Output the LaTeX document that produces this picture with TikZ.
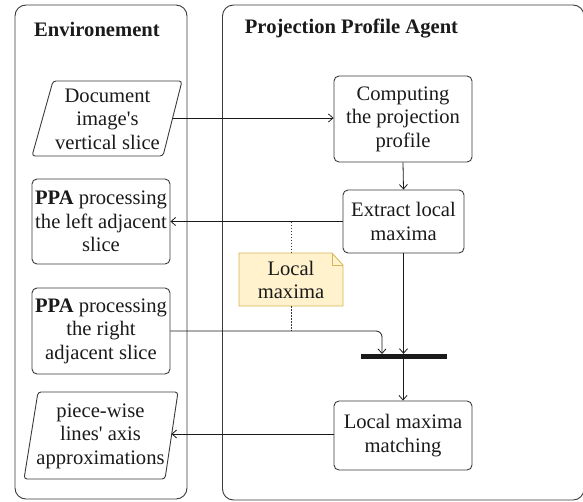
\documentclass[tikz,border=0pt]{standalone}
\usepackage{fontspec}
\setmainfont[Ligatures=TeXOff]{Liberation Serif}
\usetikzlibrary{arrows.meta}
\definecolor{ink}{HTML}{1A1A1A}
\definecolor{edge}{HTML}{3A3A3A}
\definecolor{notefill}{HTML}{FFF2CC}
\definecolor{noteedge}{HTML}{D6B656}
\tikzset{
  lbl/.style={font=\fontsize{20.6}{23.5}\selectfont, text=ink, align=center, inner sep=0pt},
  ttl/.style={font=\fontsize{20.6}{23.5}\selectfont\bfseries, text=ink, inner sep=0pt},
  lane/.style={draw=edge, line width=0.9pt, rounded corners=11pt},
  stepbox/.style={lbl, draw=edge, line width=0.9pt, rounded corners=5pt},
  flow/.style={draw=ink, line width=0.8pt, -{Straight Barb[length=4.5pt,width=8pt]}},
  shell/.style={draw=edge, line width=0.9pt, rounded corners=3pt},
  guide/.style={draw=edge, line width=0.7pt, dash pattern=on 1.5pt off 1.5pt},
}
\begin{document}
\begin{tikzpicture}[x=1pt,y=-1pt]
\useasboundingbox (0,0) rectangle (583,501);
\clip (0,0) rectangle (583,501);

% swimlanes
\draw[lane] (15,5) rectangle (187,499);
\draw[lane] (222.5,5) rectangle (584,500);
\node[ttl] (envtitle) at (97,29) {Environement};
\node[ttl] (agenttitle) at (351.5,29) {Projection Profile Agent};

% environment side
\node[lbl] (doc) at (107.5,119) {Document\\image's\\vertical slice};
\draw[shell] (53,81) -- (182,81) -- (163,156) -- (32,156) -- cycle;
\coordinate (docout) at (172.5,118);

\node[stepbox, minimum width=138pt, minimum height=85pt] (leftppa) at (101,221.5)
  {\textbf{PPA} processing\\the left adjacent\\slice};
\node[stepbox, minimum width=138pt, minimum height=86pt] (rightppa) at (101,331)
  {\textbf{PPA} processing\\the right\\adjacent slice};

\node[lbl] (approx) at (100.5,436) {piece-wise\\lines' axis\\approximations};
\draw[shell] (38,392) -- (178,392) -- (165,479) -- (24,479) -- cycle;
\coordinate (approxin) at (171.5,434);

% agent side
\node[stepbox, minimum width=138pt, minimum height=86pt] (compute) at (403,119)
  {Computing\\the projection\\profile};
\node[stepbox, minimum width=121pt, minimum height=63pt] (extract) at (403.5,221.5)
  {Extract local\\maxima};
\node[draw=none, fill=ink, minimum width=86pt, minimum height=5pt, inner sep=0pt] (bar) at (404,356.5) {};
\node[stepbox, minimum width=138pt, minimum height=69pt] (match) at (403,435.5)
  {Local maxima\\matching};

% note attached to the exchanged maxima
\draw[draw=noteedge, fill=notefill, line width=0.8pt]
  (239,253) -- (332,253) -- (343,265) -- (343,306) -- (239,306) -- cycle;
\draw[draw=noteedge, line width=0.8pt] (332,253) -- (332,265) -- (343,265);
\node[lbl] (note) at (291,280) {Local\\maxima};
\coordinate (notetop) at (291,253);
\coordinate (notebot) at (291,306);
\coordinate (guidetop) at (291,221.5);
\coordinate (guidebot) at (291,331);
\draw[guide] (guidetop) -- (notetop);
\draw[guide] (notebot) -- (guidebot);

% connectors
\draw[flow] (docout) -- (compute.west |- docout);
\draw[flow] (compute.south) -- (extract.north);
\draw[flow] (extract.west) -- (leftppa.east |- extract.west);
\coordinate (joinin) at (382,354);
\draw[flow, rounded corners=6pt] (rightppa.east) -- (joinin |- rightppa.east) -- (joinin);
\draw[flow] (extract.south) -- (extract.south |- bar.north);
\draw[flow] (bar.south -| match.north) -- (match.north);
\draw[flow] (match.west |- approxin) -- (approxin);
\end{tikzpicture}
\end{document}
